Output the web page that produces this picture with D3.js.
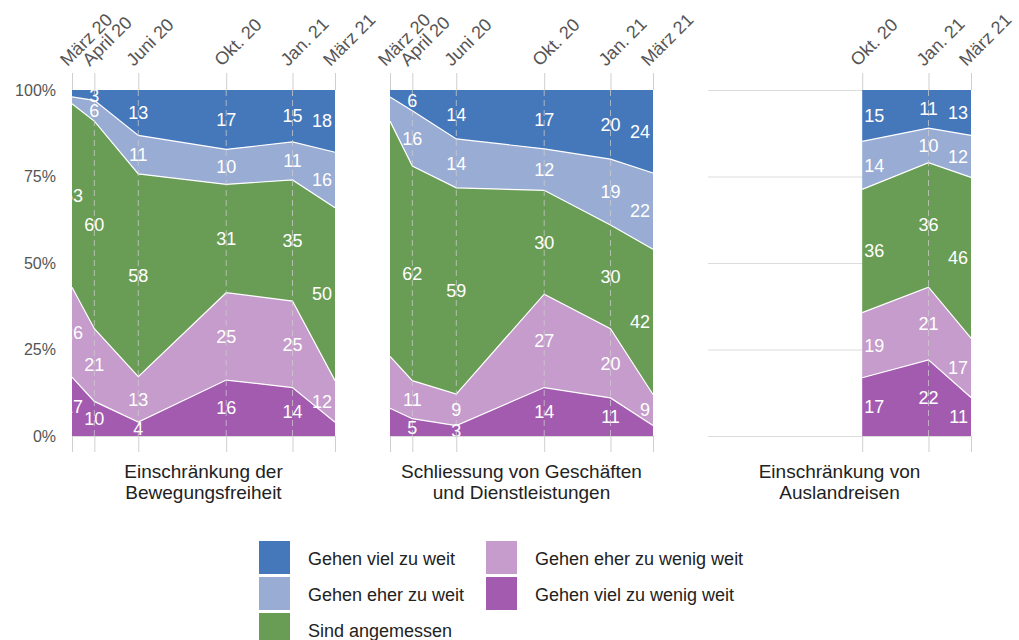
<!DOCTYPE html>
<html>
<head>
<meta charset="utf-8">
<script src="https://cdn.jsdelivr.net/npm/d3@7"></script>
<style>
body { margin: 0; background: #fff; }
text { font-family: "Liberation Sans", Arial, Helvetica, sans-serif; }
</style>
</head>
<body>
<script>
// categories, bottom to top of the stack
var keys = ['vielZuWenig', 'eherZuWenig', 'angemessen', 'eherZuWeit', 'vielZuWeit'];
var keyLabels = {
	vielZuWeit: 'Gehen viel zu weit',
	eherZuWeit: 'Gehen eher zu weit',
	angemessen: 'Sind angemessen',
	eherZuWenig: 'Gehen eher zu wenig weit',
	vielZuWenig: 'Gehen viel zu wenig weit'
};
var colors = {
	vielZuWeit: '#4577bb',
	eherZuWeit: '#98acd4',
	angemessen: '#699d55',
	eherZuWenig: '#c59ccb',
	vielZuWenig: '#a35bb0'
};

// survey dates and tick labels
var datesFull = ['2020-03-01', '2020-04-01', '2020-06-01', '2020-10-01', '2021-01-01', '2021-03-01'];
var ticksFull = ['März 20', 'April 20', 'Juni 20', 'Okt. 20', 'Jan. 21', 'März 21'];
var datesReisen = ['2020-10-01', '2021-01-01', '2021-03-01'];
var ticksReisen = ['Okt. 20', 'Jan. 21', 'März 21'];

// Einschränkung der Bewegungsfreiheit (%)
var bewVielZuWenig = [17, 10, 4, 16, 14, 4];
var bewEherZuWenig = [26, 21, 13, 25, 25, 12];
var bewAngemessen  = [53, 60, 58, 31, 35, 50];
var bewEherZuWeit  = [2, 6, 11, 10, 11, 16];
var bewVielZuWeit  = [2, 3, 13, 17, 15, 18];

// Schliessung von Geschäften und Dienstleistungen (%)
var gesVielZuWenig = [8, 5, 3, 14, 11, 3];
var gesEherZuWenig = [15, 11, 9, 27, 20, 9];
var gesAngemessen  = [68, 62, 59, 30, 30, 42];
var gesEherZuWeit  = [7, 16, 14, 12, 19, 22];
var gesVielZuWeit  = [2, 6, 14, 17, 20, 24];

// Einschränkung von Auslandreisen (%)
var reiVielZuWenig = [17, 22, 11];
var reiEherZuWenig = [19, 21, 17];
var reiAngemessen  = [36, 36, 46];
var reiEherZuWeit  = [14, 10, 12];
var reiVielZuWeit  = [15, 11, 13];

var yTicks = [0, 0.25, 0.5, 0.75, 1];

var panels = [
	{ title: ['Einschränkung der', 'Bewegungsfreiheit'], dates: datesFull, ticks: ticksFull, labelFrom: 0,
		series: [bewVielZuWenig, bewEherZuWenig, bewAngemessen, bewEherZuWeit, bewVielZuWeit] },
	{ title: ['Schliessung von Geschäften', 'und Dienstleistungen'], dates: datesFull, ticks: ticksFull, labelFrom: 1,
		series: [gesVielZuWenig, gesEherZuWenig, gesAngemessen, gesEherZuWeit, gesVielZuWeit] },
	{ title: ['Einschränkung von', 'Auslandreisen'], dates: datesReisen, ticks: ticksReisen, labelFrom: 0,
		series: [reiVielZuWenig, reiEherZuWenig, reiAngemessen, reiEherZuWeit, reiVielZuWeit] }
];

var width = 1019, height = 640;
var plotTop = 90, plotH = 346, plotW = 263;
var panelX = [72, 390, 708];

var parse = d3.timeParse('%Y-%m-%d');

var x = d3.scaleTime()
	.domain([parse('2020-03-01'), parse('2021-03-01')])
	.range([0, plotW]);
var y = d3.scaleLinear().domain([0, 1]).range([plotH, 0]);

var svg = d3.select('body').append('svg')
	.attr('width', width)
	.attr('height', height);

var defs = svg.append('defs');

var stack = d3.stack().keys(keys).offset(d3.stackOffsetExpand);

var area = d3.area()
	.x(function(d) { return x(d.data.date); })
	.y0(function(d) { return y(d[0]); })
	.y1(function(d) { return y(d[1]); });

var topLine = d3.line()
	.x(function(d) { return x(d.data.date); })
	.y(function(d) { return y(d[1]); });

panels.forEach(function(p, pi) {

	var rows = p.dates.map(function(ds, j) {
		var r = { date: parse(ds) };
		keys.forEach(function(k, ki) { r[k] = p.series[ki][j]; });
		return r;
	});
	var layers = stack(rows);
	var n = rows.length;

	// clip in page coordinates
	defs.append('clipPath')
		.attr('id', 'clip' + pi)
		.attr('clipPathUnits', 'userSpaceOnUse')
		.append('rect')
		.attr('x', panelX[pi])
		.attr('y', plotTop)
		.attr('width', plotW)
		.attr('height', plotH);

	var g = svg.append('g')
		.attr('transform', 'translate(' + panelX[pi] + ',' + plotTop + ')');

	// gridlines
	g.append('g')
		.call(d3.axisLeft(y).tickValues(yTicks).tickSize(-plotW).tickFormat(''))
		.call(function(s) { s.select('.domain').remove(); })
		.selectAll('line')
			.attr('stroke', '#dcdcdc');

	// top axis with rotated dates
	var ax = g.append('g')
		.call(d3.axisTop(x).tickValues(rows.map(function(r) { return r.date; }))
			.tickSize(17)
			.tickFormat(function(d, i) { return p.ticks[i]; }));
	ax.select('.domain').remove();
	ax.selectAll('line').attr('stroke', '#cfcfcf');
	ax.selectAll('text')
		.attr('x', 0).attr('y', 0).attr('dy', 0)
		.attr('fill', '#555')
		.style('font-size', '18px')
		.style('text-anchor', 'start')
		.attr('transform', 'translate(-5,-23) rotate(-45)');

	// bottom ticks
	var bx = g.append('g')
		.attr('transform', 'translate(0,' + plotH + ')')
		.call(d3.axisBottom(x).tickValues(rows.map(function(r) { return r.date; }))
			.tickSize(16).tickFormat(''));
	bx.select('.domain').remove();
	bx.selectAll('line').attr('stroke', '#cfcfcf');

	// areas
	g.selectAll('.layer')
		.data(layers)
		.enter().append('path')
			.attr('class', 'layer')
			.attr('d', area)
			.attr('fill', function(d) { return colors[d.key]; });

	// white borders between layers
	g.selectAll('.edge')
		.data(layers.slice(0, keys.length - 1))
		.enter().append('path')
			.attr('class', 'edge')
			.attr('d', topLine)
			.attr('fill', 'none')
			.attr('stroke', '#fff')
			.attr('stroke-width', 1.2);

	// dashed lines at inner survey dates
	g.selectAll('.survey')
		.data(rows.slice(1, n - 1))
		.enter().append('line')
			.attr('class', 'survey')
			.attr('x1', function(d) { return x(d.date); })
			.attr('x2', function(d) { return x(d.date); })
			.attr('y1', 0)
			.attr('y2', plotH)
			.attr('stroke', '#cccccc')
			.attr('stroke-opacity', 0.75)
			.attr('stroke-dasharray', '6,4');

	// value labels, clipped to the plot
	var lab = svg.append('g')
		.attr('clip-path', 'url(#clip' + pi + ')')
		.append('g')
		.attr('transform', 'translate(' + panelX[pi] + ',' + plotTop + ')');
	layers.forEach(function(layer, ki) {
		layer.forEach(function(d, j) {
			var v = p.series[ki][j];
			if (j < p.labelFrom) return;
			if ((j === 0 || j === n - 1) && v < 5) return;
			var px = x(d.data.date), anchor = 'middle';
			if (j === 0) {
				if (px > 0) { anchor = 'start'; px += 2; }
				else px += 1;
			} else if (j === n - 1) {
				anchor = 'end';
				px -= 3;
			}
			lab.append('text')
				.attr('x', px)
				.attr('y', (y(d[0]) + y(d[1])) / 2)
				.attr('dy', '0.35em')
				.attr('text-anchor', anchor)
				.attr('fill', '#fff')
				.style('font-size', '18px')
				.text(v);
		});
	});

	// y axis on the first panel only
	if (pi === 0) {
		var yAx = g.append('g')
			.call(d3.axisLeft(y).tickValues(yTicks).tickSize(0).tickPadding(16)
				.tickFormat(d3.format('.0%')));
		yAx.select('.domain').remove();
		yAx.selectAll('text')
			.attr('fill', '#555')
			.style('font-size', '16px');
	}

	// panel title
	g.append('text')
		.attr('x', plotW / 2)
		.attr('y', plotH + 42)
		.attr('text-anchor', 'middle')
		.attr('fill', '#222')
		.style('font-size', '19px')
		.selectAll('tspan')
		.data(p.title)
		.enter().append('tspan')
			.attr('x', plotW / 2)
			.attr('dy', function(d, i) { return i ? 21 : 0; })
			.text(function(d) { return d; });
});

// legend
var legendOrder = ['vielZuWeit', 'eherZuWeit', 'angemessen', 'eherZuWenig', 'vielZuWenig'];
var legend = svg.append('g').attr('transform', 'translate(259,541)');
legendOrder.forEach(function(k, i) {
	var col = i < 3 ? 0 : 1, row = i < 3 ? i : i - 3;
	var item = legend.append('g')
		.attr('transform', 'translate(' + (col * 227) + ',' + (row * 36) + ')');
	item.append('rect')
		.attr('width', 31)
		.attr('height', 33)
		.attr('fill', colors[k]);
	item.append('text')
		.attr('x', 49)
		.attr('y', 24)
		.attr('fill', '#222')
		.style('font-size', '18px')
		.text(keyLabels[k]);
});
</script>
</body>
</html>
